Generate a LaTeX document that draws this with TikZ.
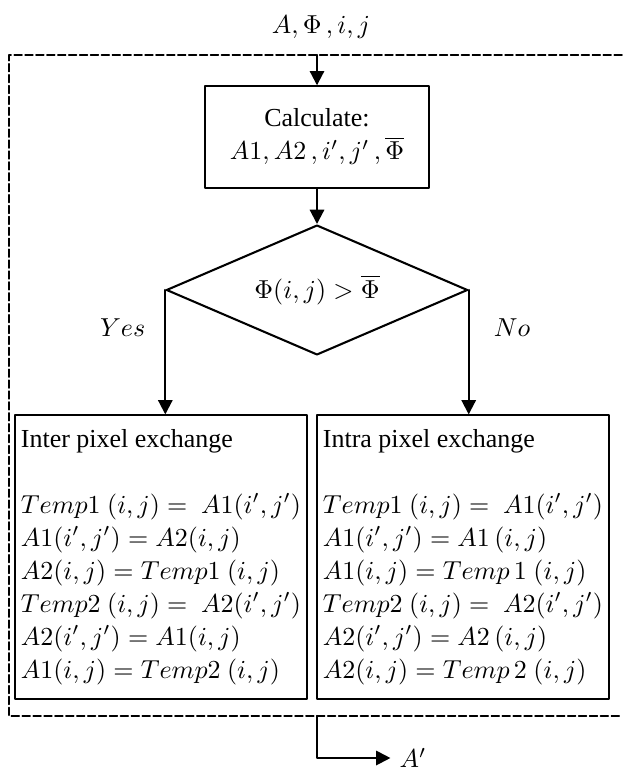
\documentclass[tikz,border=0pt]{standalone}
\usepackage{fontspec}
\setmainfont{Liberation Serif}
\usetikzlibrary{shapes.geometric,arrows.meta}
\begin{document}
\begin{tikzpicture}[x=0.385pt,y=-0.385pt,line join=round,line cap=round,font=\fontsize{10}{12.7}\selectfont,>={Triangle[length=5.5pt,width=5.5pt]},
	proc/.style={draw,line width=0.8pt,minimum width=86pt,minimum height=39pt,align=center},
	decis/.style={draw,diamond,line width=0.8pt,aspect=2.3,inner sep=0pt,minimum width=116pt,minimum height=50pt},
	exch/.style={draw,line width=0.8pt,inner xsep=2.2pt,minimum width=111pt,minimum height=109pt,align=left},
	flow/.style={->,line width=0.8pt}]% coordinates
				\useasboundingbox (0,0) rectangle (622,769);
				\path (317,55) coordinate (T)
				(317,716) coordinate (B);
				\node (inp) at (321,27) {$A,\Phi\,,i,j$};
				\node[proc] (calc) at (317,137) {Calculate:\\ $A1,A2\,,i',j'\,,\overline{\Phi}$};
				\node[decis] (dec) at (317,290) {$\Phi(i,j)>\overline{\Phi}$};
				\node[exch] (inter) at (161,557) {Inter pixel exchange\\[12.7pt]
					$Temp1\ (i,j) =\ A1(i',j')$\\
					$A1(i',j') = A2(i,j)$\\
					$A2(i,j) = Temp1\ (i,j)$\\
					$Temp2\ (i,j) =\ A2(i',j')$\\
					$A2(i',j') = A1(i,j)$\\
					$A1(i,j) = Temp2\ (i,j)$};
				\node[exch] (intra) at (463,557) {Intra pixel exchange\\[12.7pt]
					$Temp1\ (i,j) =\ A1(i',j')$\\
					$A1(i',j') = A1\,(i,j)$\\
					$A1(i,j) = Temp\,1\ (i,j)$\\
					$Temp2\ (i,j) =\ A2(i',j')$\\
					$A2(i',j') = A2\,(i,j)$\\
					$A2(i,j) = Temp\,2\ (i,j)$};
				\node (out) at (413,758) {$A'$};
				\draw[line width=0.6pt,dash pattern=on 3pt off 1.2pt] (622,55)--(9,55)--(9,716)--(622,716);% dashed frame
				\draw[flow] (T)--(calc);
				\draw[flow] (calc)--(dec);
				\draw[flow] (dec.west)--(dec.west |- inter.north) node[pos=0.3,left=4pt]{$Yes$};
				\draw[flow] (dec.east)--(dec.east |- intra.north) node[pos=0.3,right=6pt]{$No$};
				\draw[flow] (B)|-(out);
			\end{tikzpicture}
\end{document}
